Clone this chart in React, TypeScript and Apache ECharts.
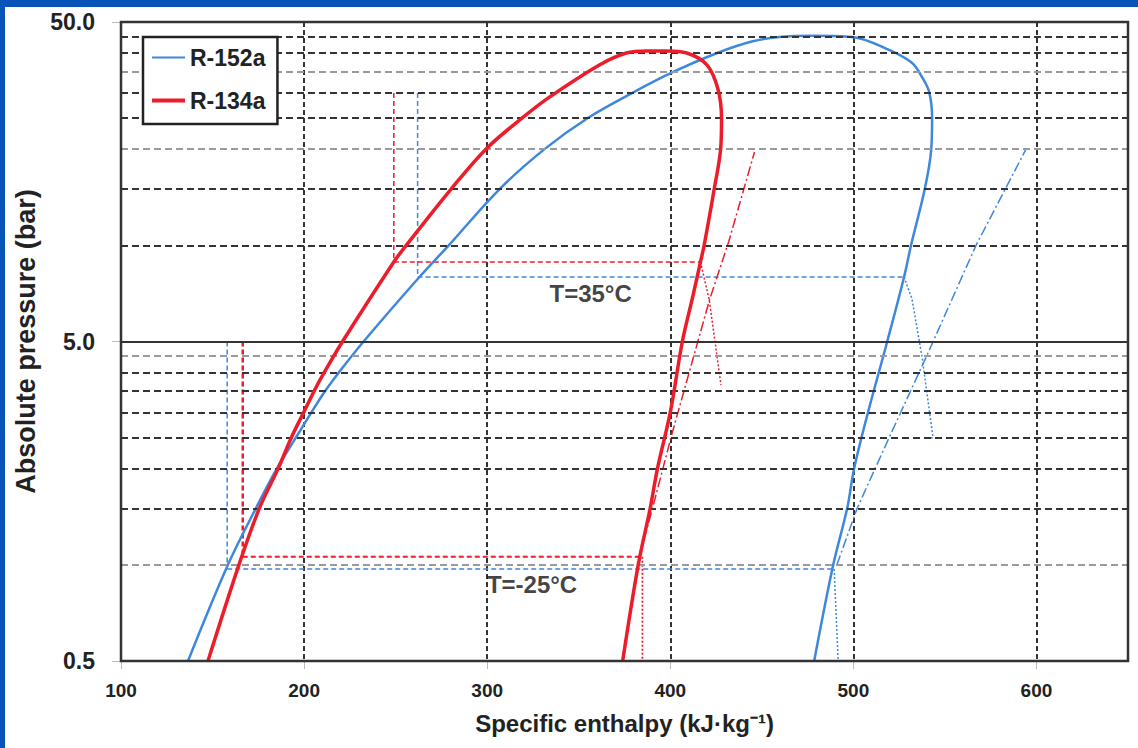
import React, { useEffect, useRef } from "react";
import * as echarts from "echarts";

// ---------- data ----------
const xMin = 100;
const xMax = 650;
const xStep = 100;
const yLabelValues = [0.5, 5, 50];
const gridDark = [1.5, 2, 2.5, 3, 3.5, 4, 10, 15, 25, 30, 40, 45];
const gridLight = [1, 4.5, 20, 35];
const gridSolid = [5];

// saturation domes [h (kJ/kg), p (bar)]
const r152aDome = [
  [136.6, 0.5], [158.4, 1.0], [173.6, 1.5], [185.1, 2.0], [195.5, 2.5], [204, 3.0], [211.5, 3.5], [219, 4.0],
  [232.5, 5.0], [263, 7.96], [279, 10], [306.8, 15], [331.3, 20], [354.8, 25], [379.3, 30], [402.2, 35],
  [425.7, 40], [445, 43.5], [459.5, 44.9], [477.5, 45.3], [499.3, 44.9], [519.5, 40.9], [532.1, 37.2],
  [537.5, 33.6], [541.4, 30.2], [543, 25.1], [542.5, 19.9], [539, 15], [531.5, 10], [527.7, 7.96], [518.5, 5.0],
  [508, 3.0], [500.4, 2.0], [496.6, 1.5], [489, 1.0], [478.6, 0.5],
];
const r134aDome = [
  [147.5, 0.5], [164.4, 1.0], [175.5, 1.5], [185.8, 2.0], [193, 2.5], [199.8, 3.0], [205.5, 3.5], [211, 4.0],
  [221, 5.0], [249, 8.87], [255.8, 10], [280.3, 15], [299.7, 20.1], [319, 25], [334, 29.1], [361.3, 36.7],
  [376, 40], [387, 40.6], [398, 40.6], [409, 40], [420, 36.7], [426, 30.9], [428, 24.9],
  [427.5, 20], [424, 15], [418.5, 10], [416.5, 8.87], [412, 6.8], [406.6, 5.0], [400, 3.0], [393, 2.0],
  [389, 1.5], [382.5, 1.0], [374, 0.5],
];

// R-134a cycle lines
const r134aVertHigh = [[249, 30], [249, 8.87]];
const r134aCond = [[249, 8.87], [416.5, 8.87]];
const r134aIso35 = [[416.5, 8.87], [421.3, 6.74], [427.7, 3.65]];
const r134aIsentrope = [[383, 1.06], [390, 1.48], [401, 2.58], [421.5, 6.77], [432, 10.3], [446, 19.6]];
const r134aEvap = [[166.5, 1.06], [383, 1.06]];
const r134aVertLow = [[166.5, 5.0], [166.5, 1.06]];
const r134aIsoLow = [[384.8, 1.06], [384.8, 0.5]];

// R-152a cycle lines
const r152aVertHigh = [[262, 30], [262, 7.96]];
const r152aCond = [[262, 7.96], [527.7, 7.96]];
const r152aIso35 = [[527.7, 7.96], [532, 6.8], [537.5, 4.48], [543.5, 2.5], [541.3, 2.5]];
const r152aIsentrope = [[491, 1.0], [502, 1.5], [519.5, 2.5], [539.7, 4.46], [567, 10], [594.3, 20]];
const r152aEvap = [[158, 0.97], [489.5, 0.97]];
const r152aVertLow = [[158, 5.0], [158, 0.97]];
const r152aIsoLow = [[489.5, 0.97], [491.7, 0.5]];

const annotationTexts = ["T=35°C", "T=-25°C"];
const annotationPos = [[356.5, 7.05], [324.5, 0.87]];

const seriesNames = ["R-152a", "R-134a"];

// ---------- styles ----------
const BLUE = "#3d87dc";
const RED = "#ec1c2a";
const FONT = "'Liberation Sans', Arial, sans-serif";

function cycleLine(name: string, data: number[][], color: string, type: any, width = 1.5) {
  return {
    type: "line",
    name,
    data,
    symbol: "none",
    silent: true,
    z: 3,
    lineStyle: { color, width, type },
  };
}

export default function App() {
  const ref = useRef<HTMLDivElement>(null);

  useEffect(() => {
    document.body.style.margin = "0";
    const chart = echarts.init(ref.current!, null, { renderer: "svg" });

    const gridMarks = [
      ...gridDark.map((v) => ({ yAxis: v, lineStyle: { color: "#333", width: 2, type: [7, 4] } })),
      ...gridLight.map((v) => ({ yAxis: v, lineStyle: { color: "#9a9a9a", width: 2, type: [7, 4] } })),
      ...gridSolid.map((v) => ({ yAxis: v, lineStyle: { color: "#333", width: 2, type: "solid" } })),
    ];

    const dash = [5, 3];
    const dot = [2, 2];
    const dashDot = [10, 3, 2, 3];

    chart.setOption({
      animation: false,
      backgroundColor: "#fff",
      graphic: [
        { type: "rect", left: 0, top: 0, shape: { width: 1138, height: 7 }, style: { fill: "#0753b8" }, z: 100 },
        { type: "rect", left: 0, top: 0, shape: { width: 5, height: 748 }, style: { fill: "#0753b8" }, z: 100 },
      ],
      grid: {
        left: 121,
        top: 22,
        right: 10,
        bottom: 87,
        outerBoundsMode: "none",
        containLabel: false,
        show: true,
        borderColor: "#333",
        borderWidth: 2.5,
        backgroundColor: "transparent",
        z: 10,
      },
      legend: {
        data: [
          { name: seriesNames[0], lineStyle: { width: 2 } },
          { name: seriesNames[1], lineStyle: { width: 4 } },
        ],
        orient: "vertical",
        left: 143,
        top: 37,
        padding: [9, 12, 12, 7],
        itemGap: 20,
        itemWidth: 33,
        itemHeight: 14,
        itemStyle: { opacity: 0 },
        backgroundColor: "#fff",
        borderColor: "#222",
        borderWidth: 2.5,
        borderRadius: 0,
        textStyle: { fontSize: 23, fontWeight: "bold", color: "#222", fontFamily: FONT },
        z: 20,
      },
      xAxis: {
        type: "value",
        min: xMin,
        max: xMax,
        interval: xStep,
        name: "Specific enthalpy (kJ·kg⁻¹)",
        nameLocation: "middle",
        nameGap: 50,
        nameTextStyle: { fontSize: 24, fontWeight: "bold", color: "#222", fontFamily: FONT },
        axisLine: { show: false },
        axisTick: { show: true, length: 8, lineStyle: { color: "#bbb" } },
        axisLabel: {
          fontSize: 19,
          fontWeight: "bold",
          color: "#222",
          fontFamily: FONT,
          margin: 20,
          showMaxLabel: false,
        },
        splitLine: { show: true, lineStyle: { color: "#333", width: 2, type: [5, 3] } },
      },
      yAxis: {
        type: "log",
        logBase: 10,
        min: 0.5,
        max: 50,
        name: "Absolute pressure (bar)",
        nameLocation: "middle",
        nameGap: 76,
        nameTextStyle: { fontSize: 27, fontWeight: "bold", color: "#222", fontFamily: FONT },
        axisLine: { show: false },
        axisTick: { show: true, length: 9, lineStyle: { color: "#bbb" }, customValues: yLabelValues },
        axisLabel: {
          customValues: yLabelValues,
          formatter: (v: number) => Number(v).toFixed(1),
          fontSize: 23,
          fontWeight: "bold",
          color: "#222",
          fontFamily: FONT,
          margin: 26,
        },
        splitLine: { show: false },
      },
      series: [
        {
          type: "line",
          name: "gridlines",
          data: [],
          silent: true,
          z: 1,
          markLine: { silent: true, symbol: "none", label: { show: false }, data: gridMarks, animation: false },
        },
        cycleLine("R-152a high vertical", r152aVertHigh, BLUE, dash, 1.5),
        cycleLine("R-152a condensation", r152aCond, BLUE, dash, 1.5),
        cycleLine("R-152a 35 isotherm", r152aIso35, BLUE, dot, 1.5),
        cycleLine("R-152a isentrope", r152aIsentrope, BLUE, dashDot, 1.5),
        cycleLine("R-152a evaporation", r152aEvap, BLUE, dash, 1.5),
        cycleLine("R-152a low vertical", r152aVertLow, BLUE, dash, 1.5),
        cycleLine("R-152a -25 isotherm", r152aIsoLow, BLUE, dot, 1.5),
        cycleLine("R-134a high vertical", r134aVertHigh, RED, dash, 1.5),
        cycleLine("R-134a condensation", r134aCond, RED, dash, 1.5),
        cycleLine("R-134a 35 isotherm", r134aIso35, RED, dot, 1.5),
        cycleLine("R-134a isentrope", r134aIsentrope, RED, dashDot, 1.5),
        cycleLine("R-134a evaporation", r134aEvap, RED, dash, 1.8),
        cycleLine("R-134a low vertical", r134aVertLow, RED, dash, 2.5),
        cycleLine("R-134a -25 isotherm", r134aIsoLow, RED, dot, 1.8),
        {
          type: "line",
          name: seriesNames[0],
          data: r152aDome,
          symbol: "none",
          smooth: 0.35,
          z: 4,
          lineStyle: { color: BLUE, width: 2.5 },
          itemStyle: { color: BLUE },
        },
        {
          type: "line",
          name: seriesNames[1],
          data: r134aDome,
          symbol: "none",
          smooth: 0.35,
          z: 5,
          lineStyle: { color: RED, width: 3.5 },
          itemStyle: { color: RED },
        },
        {
          type: "scatter",
          name: "annotations",
          data: annotationPos.map((p, i) => ({ value: p, name: annotationTexts[i] })),
          symbolSize: 0,
          silent: true,
          z: 6,
          label: {
            show: true,
            position: "inside",
            formatter: (p: any) => p.name,
            fontSize: 24,
            fontWeight: "bold",
            color: "#111",
            fontFamily: FONT,
          },
        },
      ],
    });

    return () => chart.dispose();
  }, []);

  return <div ref={ref} style={{ width: 1138, height: 748 }} />;
}
